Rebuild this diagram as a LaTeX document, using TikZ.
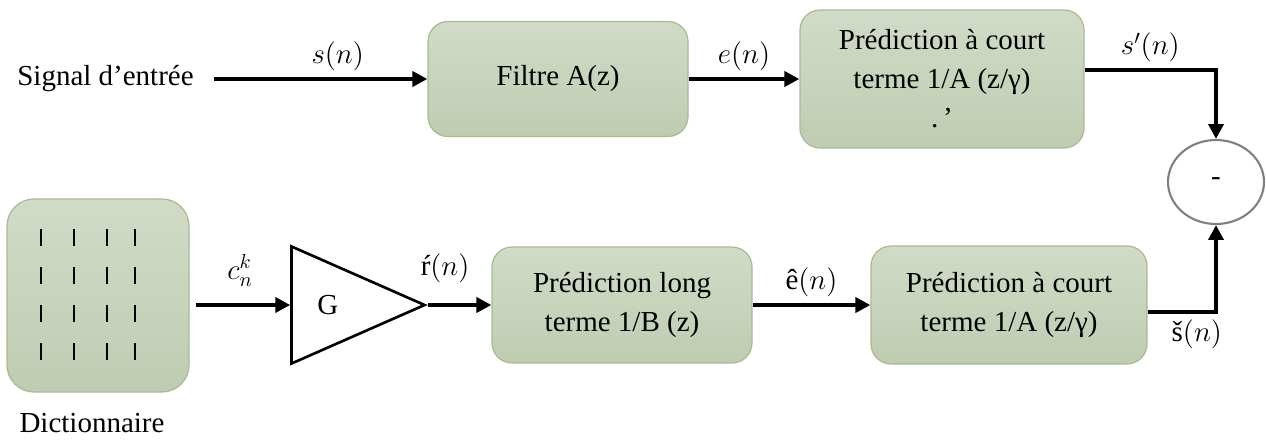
\documentclass[tikz,border=0pt]{standalone}
\usepackage{fix-cm}
\usepackage{amsmath}
\usepackage{fontspec}
\setmainfont{LiberationSerif}[Extension=.ttf, UprightFont=*-Regular,
  BoldFont=*-Bold, ItalicFont=*-Italic, BoldItalicFont=*-BoldItalic]
\usetikzlibrary{shapes.geometric, arrows.meta}

\definecolor{blochaut}{HTML}{D1DBC7}
\definecolor{blocbas}{HTML}{BFCCB1}
\definecolor{blocbord}{HTML}{A9BA95}

\tikzset{
  bloc/.style={rounded corners=0.4cm, draw=blocbord, line width=0.7pt,
    top color=blochaut, bottom color=blocbas, align=center},
  fleche/.style={-{Triangle[length=8.5pt,width=8.5pt]}, line width=2.2pt},
  somme/.style={ellipse, draw=gray, line width=1.2pt,
    minimum width=1.92cm, minimum height=1.68cm},
  ampli/.style={isosceles triangle, isosceles triangle stretches, draw,
    line width=1.5pt, minimum width=2.34cm, minimum height=2.66cm, inner sep=0pt},
  barre/.style={line width=1.5pt}
}

\begin{document}
\begin{tikzpicture}[font=\fontsize{16.5}{22.2}\selectfont]
        \useasboundingbox (0,0) rectangle (25.32,8.88);
        % Blocs
        \node[inner xsep=0.4cm, anchor=east] (signal) at (4.28,7.30) {Signal d’entrée};
        \node[bloc, minimum width=5.2cm, minimum height=2.3cm] (filtre) at (11.16,7.30) {Filtre A(z)};
        \node[bloc, minimum width=5.68cm, minimum height=2.76cm] (predA) at (18.84,7.30) {Prédiction à court\\terme 1/A (z/γ)\\.\,’};
        \node[somme] (moins) at (24.32,5.24) {-};
        \node[bloc, rounded corners=0.54cm, minimum width=3.64cm, minimum height=3.86cm] (dico) at (1.96,2.97) {};
        \node (dicotexte) at (1.84,0.42) {Dictionnaire};
        \node[ampli, anchor=apex] (gain) at (8.56,2.78) {G};
        \node[bloc, minimum width=5.2cm, minimum height=2.32cm] (predB) at (12.44,2.78) {Prédiction long\\terme 1/B (z)};
        \node[bloc, minimum width=5.52cm, minimum height=2.36cm] (predC) at (20.18,2.78) {Prédiction à court\\terme 1/A (z/γ)};
        % Barres du dictionnaire
        \foreach \bx in {0.82,1.48,2.14,2.70}
          \foreach \by in {4.14,3.38,2.62,1.86}
            \draw[barre] (\bx,\by-0.17) -- (\bx,\by+0.17);
        % Liaisons
        \draw[fleche] (signal.east) -- (filtre.west) node[pos=0.58,above] (lbls) {$s(n)$};
        \draw[fleche] (filtre.east) -- (predA.west) node[midway,above] (lble) {$e(n)$};
        \draw[fleche] ([yshift=0.18cm]predA.east) -| (moins.north) node[pos=0.25,above] (lblsp) {$s'(n)$};
        \draw[fleche, shorten <=0.12cm] (dico.east |- gain.west) -- (gain.west) node[midway,above=6pt] (lblc) {$c_n^k$};
        \draw[fleche] (gain.apex) -- (predB.west) node[pos=0.27,above=8pt] (lblr) {ŕ$(n)$};
        \draw[fleche] (predB.east) -- (predC.west) node[midway,above] (lblee) {ê$(n)$};
        \draw[fleche] ([yshift=-0.14cm]predC.east) -| (moins.south) node[pos=0.36,below] (lblsc) {š$(n)$};
    \end{tikzpicture}
\end{document}
